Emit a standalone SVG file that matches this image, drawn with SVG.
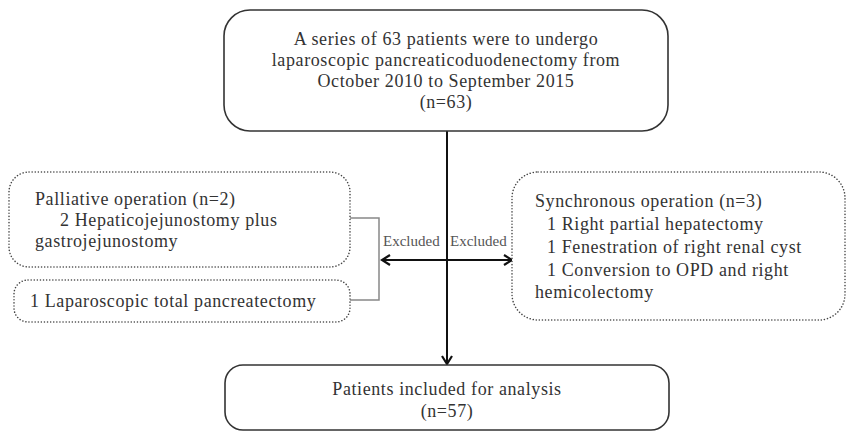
<svg xmlns="http://www.w3.org/2000/svg" width="847" height="432" viewBox="0 0 847 432">
<defs>
<style>
.solid{fill:#fff;stroke:#333;stroke-width:1.6}
.dot{fill:#fff;stroke:#444;stroke-width:1.5;stroke-dasharray:0.1 3;stroke-linecap:round}
.t{font-family:"Liberation Serif","Times New Roman",serif;font-size:18px;letter-spacing:0.6px;fill:#333}
.c{text-anchor:middle}
.ex{font-family:"Liberation Serif","Times New Roman",serif;font-size:15px;fill:#555}
.ln{fill:none;stroke:#111;stroke-width:2}
.br{fill:none;stroke:#888;stroke-width:1.5}
</style>
<marker id="ah" viewBox="0 0 12 12" refX="10" refY="6" markerWidth="12" markerHeight="12" markerUnits="userSpaceOnUse" orient="auto-start-reverse">
<path d="M2,1 L10,6 L2,11" fill="none" stroke="#111" stroke-width="2.2"/>
</marker>
</defs>
<g id="connectors">
<line class="ln" x1="447" y1="131" x2="447" y2="364" marker-end="url(#ah)"/>
<line class="ln" x1="382" y1="260" x2="512" y2="260" marker-start="url(#ah)" marker-end="url(#ah)"/>
<polyline class="br" points="350,218 379,218 379,300 350,300"/>
<text class="ex" x="383" y="246">Excluded</text>
<text class="ex" x="450" y="246">Excluded</text>
</g>
<g id="start">
<rect class="solid" x="224" y="10" width="444" height="121" rx="26"/>
<text class="t c" x="446" y="45">A series of 63 patients were to undergo</text>
<text class="t c" x="446" y="66">laparoscopic pancreaticoduodenectomy from</text>
<text class="t c" x="446" y="87">October 2010 to September 2015</text>
<text class="t c" x="446" y="108">(n=63)</text>
</g>
<g id="palliative">
<rect class="dot" x="9" y="172" width="341" height="95" rx="20"/>
<text class="t" x="35" y="205">Palliative operation (n=2)</text>
<text class="t" x="60" y="226">2 Hepaticojejunostomy plus</text>
<text class="t" x="35" y="247">gastrojejunostomy</text>
</g>
<g id="total">
<rect class="dot" x="14" y="280" width="336" height="42" rx="14"/>
<text class="t" x="30" y="307">1 Laparoscopic total pancreatectomy</text>
</g>
<g id="synchronous">
<rect class="dot" x="512" y="172" width="333" height="148" rx="26"/>
<text class="t" x="535" y="207">Synchronous operation (n=3)</text>
<text class="t" x="547" y="230">1 Right partial hepatectomy</text>
<text class="t" x="547" y="253">1 Fenestration of right renal cyst</text>
<text class="t" x="547" y="276">1 Conversion to OPD and right</text>
<text class="t" x="535" y="298">hemicolectomy</text>
</g>
<g id="included">
<rect class="solid" x="225" y="365" width="444" height="65" rx="18"/>
<text class="t c" x="447" y="395">Patients included for analysis</text>
<text class="t c" x="447" y="417">(n=57)</text>
</g>
</svg>
